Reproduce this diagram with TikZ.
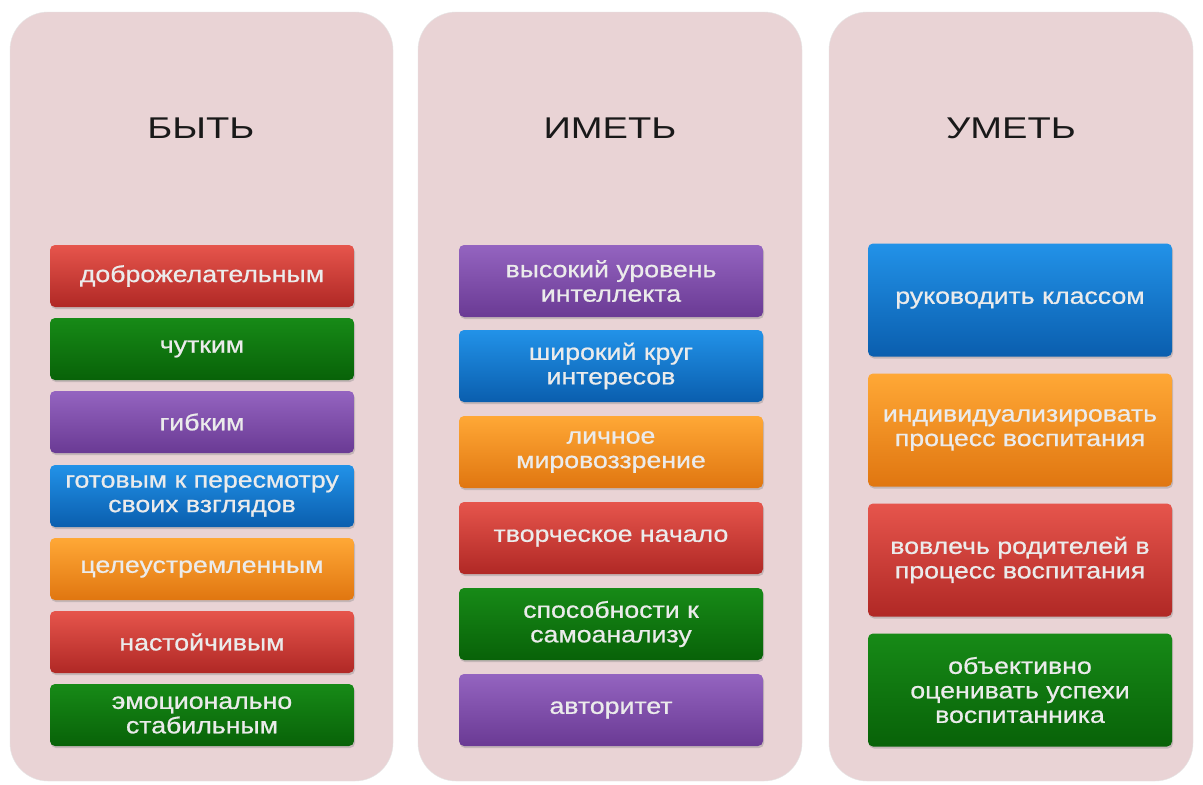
\documentclass[tikz,border=0pt]{standalone}
\usepackage{fontspec}
\usetikzlibrary{shadows}
\newfontfamily\cardfont[FakeStretch=1.16,FakeBold=0.8]{Liberation Sans}
\newfontfamily\headfont[FakeStretch=1.27]{Liberation Sans}
\definecolor{panelpink}{HTML}{E9D3D5}
\definecolor{redtop}{HTML}{E6554C}
\definecolor{redbot}{HTML}{B02825}
\definecolor{greentop}{HTML}{178A17}
\definecolor{greenbot}{HTML}{086208}
\definecolor{purpletop}{HTML}{9464C0}
\definecolor{purplebot}{HTML}{6A3A94}
\definecolor{bluetop}{HTML}{2292E8}
\definecolor{bluebot}{HTML}{0A5EAE}
\definecolor{orangetop}{HTML}{FFA836}
\definecolor{orangebot}{HTML}{E07610}
\begin{document}
\begin{tikzpicture}[x=1pt, y=-1pt]
				\tikzstyle{panel}=[draw=black!10, fill=panelpink, rounded corners=38pt]
				\tikzstyle{head}=[font=\headfont\fontsize{30}{34}\selectfont, text=black!90]
				\tikzstyle{card}=[rounded corners=5pt, inner sep=0pt, minimum width=304pt, align=center,
					font=\cardfont\fontsize{23}{24.5}\selectfont, text=white!92!black,
					drop shadow={opacity=0.35, shadow xshift=1pt, shadow yshift=-2pt}]
				\tikzstyle{red card}=[card, top color=redtop, bottom color=redbot]
				\tikzstyle{green card}=[card, top color=greentop, bottom color=greenbot]
				\tikzstyle{purple card}=[card, top color=purpletop, bottom color=purplebot]
				\tikzstyle{blue card}=[card, top color=bluetop, bottom color=bluebot]
				\tikzstyle{orange card}=[card, top color=orangetop, bottom color=orangebot]
				\useasboundingbox (0, 0) rectangle (1203, 785);
				% panels
				\fill [white] (0, 0) rectangle (1203, 785);
				\draw [panel] (10, 12) rectangle (393, 781);
				\draw [panel] (418, 12) rectangle (802, 781);
				\draw [panel] (829, 12) rectangle (1193, 781);
				% left column
				\node [head] (BE) at (201, 128) {БЫТЬ};
				\node [red card, minimum height=62pt] (B1) at (202, 276) {доброжелательным};
				\node [green card, minimum height=62pt] (B2) at (202, 349) {чутким};
				\node [purple card, minimum height=62pt] (B3) at (202, 422) {гибким};
				\node [blue card, minimum height=62pt] (B4) at (202, 496) {готовым к пересмотру\\своих взглядов};
				\node [orange card, minimum height=62pt] (B5) at (202, 569) {целеустремленным};
				\node [red card, minimum height=62pt] (B6) at (202, 642) {настойчивым};
				\node [green card, minimum height=62pt] (B7) at (202, 715) {эмоционально\\стабильным};
				% middle column
				\node [head] (HA) at (610, 128) {ИМЕТЬ};
				\node [purple card, minimum height=72pt] (H1) at (611, 281) {высокий уровень\\интеллекта};
				\node [blue card, minimum height=72pt] (H2) at (611, 366) {широкий круг\\интересов};
				\node [orange card, minimum height=72pt] (H3) at (611, 452) {личное\\мировоззрение};
				\node [red card, minimum height=72pt] (H4) at (611, 538) {творческое начало};
				\node [green card, minimum height=72pt] (H5) at (611, 624) {способности к\\самоанализу};
				\node [purple card, minimum height=72pt] (H6) at (611, 710) {авторитет};
				% right column
				\node [head] (CA) at (1011, 128) {УМЕТЬ};
				\node [blue card, minimum height=113pt] (C1) at (1020, 300) {руководить классом};
				\node [orange card, minimum height=113pt] (C2) at (1020, 430) {индивидуализировать\\процесс воспитания};
				\node [red card, minimum height=113pt] (C3) at (1020, 560) {вовлечь родителей в\\процесс воспитания};
				\node [green card, minimum height=113pt] (C4) at (1020, 690) {объективно\\оценивать успехи\\воспитанника};
		\end{tikzpicture}
\end{document}
